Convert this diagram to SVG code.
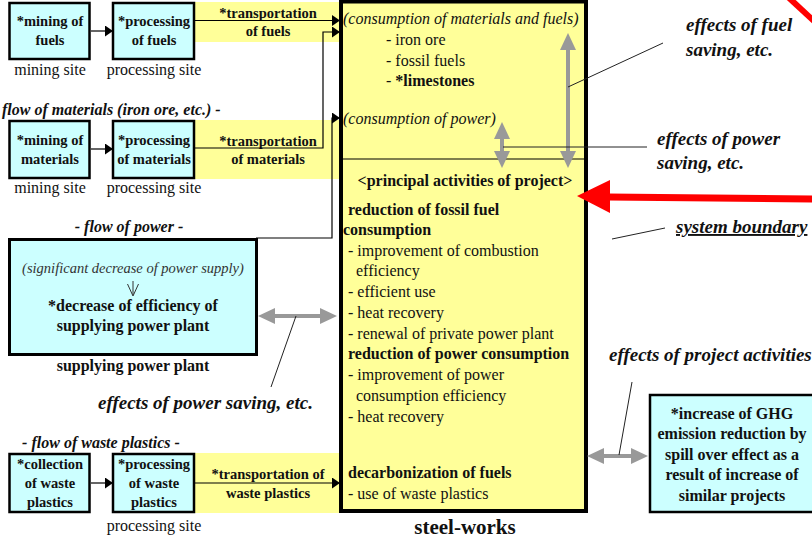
<svg xmlns="http://www.w3.org/2000/svg" width="812" height="538" viewBox="0 0 812 538">
<defs>
<style>
text{font-family:"Liberation Serif","Times New Roman",serif;fill:#111}
.b{font-weight:bold}
.i{font-style:italic}
.bi{font-weight:bold;font-style:italic}
.s14{font-size:14.5px}
.s16{font-size:16px}
.s19{font-size:19px}
.c{text-anchor:middle}
.cy{fill:#ccffff;stroke:#000;stroke-width:2.5}
.ye{fill:#ffff99}
.ln{fill:none;stroke:#000;stroke-width:1.2}
.ld{fill:none;stroke:#222;stroke-width:1}
.ga{fill:none;stroke:#999;stroke-width:4;marker-start:url(#ga);marker-end:url(#ga)}
</style>
<marker id="ga" viewBox="0 0 17 16" refX="1" refY="8" markerWidth="17" markerHeight="16" markerUnits="userSpaceOnUse" orient="auto-start-reverse"><path d="M0,0L17,8L0,16z" fill="#999"/></marker>
<marker id="ba" viewBox="0 0 8 11" refX="7" refY="5.5" markerWidth="8" markerHeight="11" markerUnits="userSpaceOnUse" orient="auto"><path d="M0,0L8,5.5L0,11z" fill="#000"/></marker>
</defs>

<g id="bands">
<rect class="ye" x="195" y="2" width="145" height="40"/>
<rect class="ye" x="195" y="120" width="145" height="59"/>
<rect class="ye" x="195" y="453" width="145" height="60"/>
<text class="b s14 c" x="268" y="18">*transportation</text>
<text class="b s14 c" x="268" y="36">of fuels</text>
<text class="b s14 c" x="268" y="146">*transportation</text>
<text class="b s14 c" x="268" y="164">of materials</text>
<text class="b s14 c" x="268" y="479">*transportation of</text>
<text class="b s14 c" x="268" y="498">waste plastics</text>
</g>

<g id="steel-works">
<rect x="341" y="1.5" width="245" height="509.5" fill="#ffff99" stroke="#000" stroke-width="4"/>
<line x1="343" y1="159" x2="586" y2="159" stroke="#000" stroke-width="1.2"/>
<text class="i s16" x="343" y="24">(consumption of materials and fuels)</text>
<text class="s16" x="386" y="45">- iron ore</text>
<text class="s16" x="386" y="66">- fossil fuels</text>
<text class="s16" x="386" y="86">- <tspan class="b">*limestones</tspan></text>
<text class="i s16" x="343" y="124">(consumption of power)</text>
<text class="b s16 c" x="465" y="186">&lt;principal activities of project&gt;</text>
<text class="b s16" x="348" y="215">reduction of fossil fuel</text>
<text class="b s16" x="343" y="235">consumption</text>
<text class="s16" x="348" y="256">- improvement of combustion</text>
<text class="s16" x="356" y="276">efficiency</text>
<text class="s16" x="348" y="297">- efficient use</text>
<text class="s16" x="348" y="318">- heat recovery</text>
<text class="s16" x="348" y="339">- renewal of private power plant</text>
<text class="b s16" x="348" y="359">reduction of power consumption</text>
<text class="s16" x="348" y="380">- improvement of power</text>
<text class="s16" x="356" y="401">consumption efficiency</text>
<text class="s16" x="348" y="422">- heat recovery</text>
<text class="b s16" x="348" y="478">decarbonization of fuels</text>
<text class="s16" x="348" y="499">- use of waste plastics</text>
<text class="b c" x="465" y="534" style="font-size:21px">steel-works</text>
</g>

<g id="mining-fuels">
<rect class="cy" x="9.5" y="3" width="80" height="56"/>
<text class="b s14 c" x="50" y="26">*mining of</text>
<text class="b s14 c" x="50" y="45">fuels</text>
<text class="s16 c" x="50" y="75">mining site</text>
</g>
<g id="processing-fuels">
<rect class="cy" x="113" y="3" width="81" height="56"/>
<text class="b s14 c" x="154" y="26">*processing</text>
<text class="b s14 c" x="154" y="45">of fuels</text>
<text class="s16 c" x="154" y="75">processing site</text>
</g>

<text class="bi s16" x="2" y="115">flow of materials (iron ore, etc.) -</text>

<g id="mining-materials">
<rect class="cy" x="9.5" y="121" width="80" height="57"/>
<text class="b s14 c" x="50" y="145">*mining of</text>
<text class="b s14 c" x="50" y="164">materials</text>
<text class="s16 c" x="50" y="193">mining site</text>
</g>
<g id="processing-materials">
<rect class="cy" x="113" y="121" width="81" height="57"/>
<text class="b s14 c" x="154" y="145">*processing</text>
<text class="b s14 c" x="154" y="164">of materials</text>
<text class="s16 c" x="154" y="193">processing site</text>
</g>

<text class="bi s16 c" x="129" y="232">- flow of power -</text>

<g id="power-plant">
<rect x="9.5" y="239.5" width="247" height="115" fill="#ccffff" stroke="#000" stroke-width="3"/>
<text class="i c" x="133" y="273" style="font-size:14.5px;fill:#333">(significant decrease of power supply)</text>
<path d="M133,281V295M127.5,284L133,296L138.5,284" fill="none" stroke="#333" stroke-width="1"/>
<text class="b s16 c" x="133" y="311">*decrease of efficiency of</text>
<text class="b s16 c" x="133" y="331">supplying power plant</text>
<text class="b s16 c" x="133" y="371">supplying power plant</text>
</g>

<text class="bi s16 c" x="101" y="448">- flow of waste plastics -</text>

<g id="collection-waste">
<rect class="cy" x="9.5" y="454" width="80" height="58"/>
<text class="b s14 c" x="50" y="469">*collection</text>
<text class="b s14 c" x="50" y="488">of waste</text>
<text class="b s14 c" x="50" y="507">plastics</text>
</g>
<g id="processing-waste">
<rect class="cy" x="113" y="454" width="81" height="58"/>
<text class="b s14 c" x="154" y="469">*processing</text>
<text class="b s14 c" x="154" y="488">of waste</text>
<text class="b s14 c" x="154" y="507">plastics</text>
<text class="s16 c" x="154" y="531">processing site</text>
</g>

<g id="ghg">
<rect class="cy" x="650" y="395" width="175" height="117"/>
<text class="b s16 c" x="732" y="419">*increase of GHG</text>
<text class="b s16 c" x="732" y="439">emission reduction by</text>
<text class="b s16 c" x="732" y="460">spill over effect as a</text>
<text class="b s16 c" x="732" y="480">result of increase of</text>
<text class="b s16 c" x="732" y="501">similar projects</text>
</g>

<g id="labels">
<text class="bi s19" x="686" y="31">effects of fuel</text>
<text class="bi s19" x="686" y="56">saving, etc.</text>
<text class="bi s19" x="657" y="145">effects of power</text>
<text class="bi s19" x="657" y="169">saving, etc.</text>
<text class="bi s19" x="676" y="233" text-decoration="underline">system boundary</text>
<text class="bi s19" x="609" y="361">effects of project activities</text>
<text class="bi s19" x="98" y="409">effects of power saving, etc.</text>
</g>

<g id="connectors">
<line class="ln" x1="91" y1="31" x2="112" y2="31" marker-end="url(#ba)"/>
<line class="ln" x1="91" y1="149" x2="112" y2="149" marker-end="url(#ba)"/>
<line class="ln" x1="91" y1="483" x2="112" y2="483" marker-end="url(#ba)"/>
<line class="ln" x1="195" y1="20.5" x2="339" y2="20.5" marker-end="url(#ba)"/>
<polyline class="ln" points="195,148 323,148 323,32 339,32" marker-end="url(#ba)"/>
<polyline class="ln" points="256,238 332,238 332,118 339,118" marker-end="url(#ba)"/>
<line class="ln" x1="195" y1="483" x2="339" y2="483" marker-end="url(#ba)"/>
<line class="ga" x1="568" y1="49" x2="568" y2="152"/>
<line class="ga" x1="502" y1="138" x2="502" y2="152"/>
<line class="ga" x1="274" y1="316" x2="321" y2="316"/>
<line class="ga" x1="603" y1="456" x2="632" y2="456"/>
<line class="ld" x1="568" y1="87" x2="663" y2="43"/>
<line class="ld" x1="503" y1="147" x2="647" y2="147" stroke="#555"/>
<line class="ld" x1="612" y1="239" x2="665" y2="228"/>
<line class="ld" x1="271" y1="387" x2="296" y2="316"/>
<line class="ld" x1="619" y1="455" x2="632" y2="382"/>
<line x1="608" y1="197" x2="814" y2="199" stroke="#ff0000" stroke-width="7"/>
<polygon points="577,196 610,180 610,213" fill="#ff0000"/>
<line x1="788" y1="-3" x2="815" y2="22" stroke="#ff0000" stroke-width="6"/>
</g>
</svg>
